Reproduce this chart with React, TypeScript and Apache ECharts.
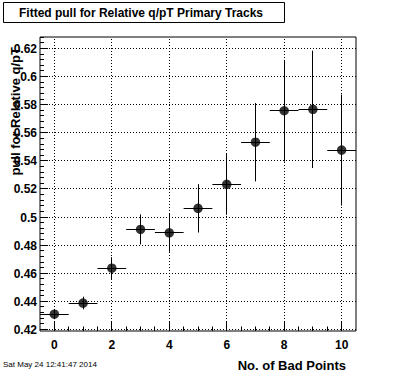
import React, { useEffect, useRef } from "react";
import * as echarts from "echarts";

// ---- data ----
const badPoints = [0, 1, 2, 3, 4, 5, 6, 7, 8, 9, 10];
const pullValues = [0.4309, 0.4388, 0.4636, 0.4912, 0.4888, 0.5062, 0.5233, 0.5533, 0.5757, 0.5767, 0.5477];
const pullErrors = [0.0036, 0.0045, 0.0079, 0.0107, 0.0135, 0.0172, 0.0217, 0.0279, 0.0362, 0.0418, 0.0395];
const binHalfWidths = [0.5, 0.5, 0.5, 0.5, 0.5, 0.5, 0.5, 0.5, 0.5, 0.5, 0.5];

const xTickValues = [0, 2, 4, 6, 8, 10];
const xTickLabels = ["0", "2", "4", "6", "8", "10"];
const yTickValues = [0.42, 0.44, 0.46, 0.48, 0.5, 0.52, 0.54, 0.56, 0.58, 0.6, 0.62];
const yTickLabels = ["0.42", "0.44", "0.46", "0.48", "0.5", "0.52", "0.54", "0.56", "0.58", "0.6", "0.62"];

const titleText = "Fitted pull for Relative q/pT Primary Tracks";
const xTitle = "No. of Bad Points";
const yTitle = "pull for Relative q/pT";
const dateText = "Sat May 24 12:41:47 2014";

// axis ranges
const X_MIN = -0.5;
const X_MAX = 10.5;
const Y_MIN = 0.4189;
const Y_MAX = 0.6282;
const X_MINOR_STEP = 0.5;
const Y_MINOR_STEP = 0.004;

const FONT = "'Liberation Sans', Arial, Helvetica, sans-serif";

const snap = (v: number) => Math.round(v - 0.5) + 0.5;

function minorValues(lo: number, hi: number, step: number, anchor: number) {
  const out: number[] = [];
  const start = Math.ceil((lo - anchor) / step - 1e-9);
  const end = Math.floor((hi - anchor) / step + 1e-9);
  for (let k = start; k <= end; k++) out.push(+(anchor + k * step).toFixed(6));
  return out;
}

function isMajor(v: number, majors: number[]) {
  return majors.some((m) => Math.abs(m - v) < 1e-6);
}

export default function App() {
  const ref = useRef<HTMLDivElement>(null);

  useEffect(() => {
    if (!ref.current) return;
    const chart = echarts.init(ref.current, undefined, { renderer: "svg" });

    const xMinor = minorValues(X_MIN + 0.01, X_MAX - 0.01, X_MINOR_STEP, 0);
    const yMinor = minorValues(Y_MIN, Y_MAX, Y_MINOR_STEP, 0.42);

    const option: any = {
      animation: false,
      backgroundColor: "#fff",
      grid: {
        left: 40,
        top: 37,
        right: 40,
        bottom: 41,
        show: true,
        borderColor: "#000",
        borderWidth: 1,
        backgroundColor: "#fff",
      },
      xAxis: {
        type: "value",
        min: X_MIN,
        max: X_MAX,
        axisLine: { show: false },
        axisTick: { show: false },
        axisLabel: { show: false },
        splitLine: { show: false },
      },
      yAxis: {
        type: "value",
        min: Y_MIN,
        max: Y_MAX,
        axisLine: { show: false },
        axisTick: { show: false },
        axisLabel: { show: false },
        splitLine: { show: false },
      },
      series: [
        // vertical dotted grid lines
        {
          type: "custom",
          silent: true,
          z: 1,
          data: xTickValues.map((v) => [v, Y_MIN]),
          renderItem: (_p: any, api: any) => {
            const v = api.value(0);
            const a = api.coord([v, Y_MIN]);
            const b = api.coord([v, Y_MAX]);
            const x = snap(a[0]);
            return {
              type: "line",
              shape: { x1: x, y1: a[1], x2: x, y2: b[1] },
              style: { stroke: "#000", lineWidth: 1, lineDash: [1, 2] },
            };
          },
        },
        // horizontal dotted grid lines
        {
          type: "custom",
          silent: true,
          z: 1,
          data: yTickValues.map((v) => [X_MIN, v]),
          renderItem: (_p: any, api: any) => {
            const v = api.value(1);
            const a = api.coord([X_MIN, v]);
            const b = api.coord([X_MAX, v]);
            const y = snap(a[1]);
            return {
              type: "line",
              shape: { x1: a[0], y1: y, x2: b[0], y2: y },
              style: { stroke: "#000", lineWidth: 1, lineDash: [1, 2] },
            };
          },
        },
        // x ticks + labels
        {
          type: "custom",
          silent: true,
          z: 2,
          data: xMinor.map((v) => [v, Y_MIN]),
          renderItem: (_p: any, api: any) => {
            const v = api.value(0);
            const a = api.coord([v, Y_MIN]);
            const major = isMajor(v, xTickValues);
            const x = snap(a[0]);
            const len = major ? 9 : 4.5;
            const children: any[] = [
              {
                type: "line",
                shape: { x1: x, y1: a[1], x2: x, y2: a[1] - len },
                style: { stroke: "#000", lineWidth: 1 },
              },
            ];
            if (major) {
              const idx = xTickValues.findIndex((m) => Math.abs(m - v) < 1e-6);
              children.push({
                type: "text",
                x: a[0],
                y: a[1] + 14,
                style: {
                  text: xTickLabels[idx],
                  fill: "#000",
                  fontFamily: FONT,
                  fontSize: 12,
                  fontWeight: "bold",
                  align: "center",
                  verticalAlign: "middle",
                  textAlign: "center",
                  textVerticalAlign: "middle",
                },
              });
            }
            return { type: "group", children };
          },
        },
        // y ticks + labels
        {
          type: "custom",
          silent: true,
          z: 2,
          data: yMinor.map((v) => [X_MIN, v]),
          renderItem: (_p: any, api: any) => {
            const v = api.value(1);
            const a = api.coord([X_MIN, v]);
            const major = isMajor(v, yTickValues);
            const y = snap(a[1]);
            const len = major ? 8 : 4;
            const children: any[] = [
              {
                type: "line",
                shape: { x1: a[0], y1: y, x2: a[0] + len, y2: y },
                style: { stroke: "#000", lineWidth: 1 },
              },
            ];
            if (major) {
              const idx = yTickValues.findIndex((m) => Math.abs(m - v) < 1e-6);
              children.push({
                type: "text",
                x: a[0] - 3,
                y: a[1] + 0.5,
                style: {
                  text: yTickLabels[idx],
                  fill: "#000",
                  fontFamily: FONT,
                  fontSize: 12,
                  fontWeight: "bold",
                  align: "right",
                  verticalAlign: "middle",
                  textAlign: "right",
                  textVerticalAlign: "middle",
                },
              });
            }
            return { type: "group", children };
          },
        },
        // error bars
        {
          type: "custom",
          silent: true,
          z: 3,
          encode: { x: 0, y: 1 },
          data: badPoints.map((x, i) => [x, pullValues[i], pullErrors[i], binHalfWidths[i]]),
          renderItem: (_p: any, api: any) => {
            const x = api.value(0);
            const y = api.value(1);
            const e = api.value(2);
            const w = api.value(3);
            const l = api.coord([x - w, y]);
            const r = api.coord([x + w, y]);
            const t = api.coord([x, y + e]);
            const b = api.coord([x, y - e]);
            const cx = snap(l[0] + (r[0] - l[0]) / 2);
            const cy = snap(l[1]);
            return {
              type: "group",
              children: [
                {
                  type: "line",
                  shape: { x1: l[0], y1: cy, x2: r[0], y2: cy },
                  style: { stroke: "#000", lineWidth: 1 },
                },
                {
                  type: "line",
                  shape: { x1: cx, y1: t[1], x2: cx, y2: b[1] },
                  style: { stroke: "#000", lineWidth: 1 },
                },
              ],
            };
          },
        },
        // markers
        {
          type: "scatter",
          z: 4,
          symbol: "circle",
          symbolSize: 9.5,
          itemStyle: { color: "#000" },
          silent: true,
          data: badPoints.map((x, i) => [x, pullValues[i]]),
        },
      ],
      graphic: [
        {
          type: "rect",
          shape: { x: 3.5, y: 2.5, width: 281, height: 20 },
          style: { fill: "#fff", stroke: "#000", lineWidth: 1 },
        },
        {
          type: "text",
          x: 141,
          y: 12.5,
          style: {
            text: titleText,
            fill: "#000",
            fontFamily: FONT,
            fontSize: 12,
            fontWeight: "bold",
            align: "center",
            verticalAlign: "middle",
            textAlign: "center",
            textVerticalAlign: "middle",
          },
        },
        {
          type: "text",
          x: 15,
          y: 47,
          rotation: Math.PI / 2,
          style: {
            text: yTitle,
            fill: "#000",
            fontFamily: FONT,
            fontSize: 13,
            fontWeight: "bold",
            align: "right",
            verticalAlign: "middle",
            textAlign: "right",
            textVerticalAlign: "middle",
          },
        },
        {
          type: "text",
          x: 346,
          y: 365,
          style: {
            text: xTitle,
            fill: "#000",
            fontFamily: FONT,
            fontSize: 13,
            fontWeight: "bold",
            align: "right",
            verticalAlign: "middle",
            textAlign: "right",
            textVerticalAlign: "middle",
          },
        },
        {
          type: "text",
          x: 3,
          y: 364,
          style: {
            text: dateText,
            fill: "#000",
            fontFamily: FONT,
            fontSize: 8,
            align: "left",
            verticalAlign: "middle",
            textAlign: "left",
            textVerticalAlign: "middle",
          },
        },
      ],
    };

    chart.setOption(option);
    return () => chart.dispose();
  }, []);

  return (
    <div
      ref={ref}
      style={{ position: "fixed", left: 0, top: 0, width: 396, height: 372, background: "#fff" }}
    />
  );
}
